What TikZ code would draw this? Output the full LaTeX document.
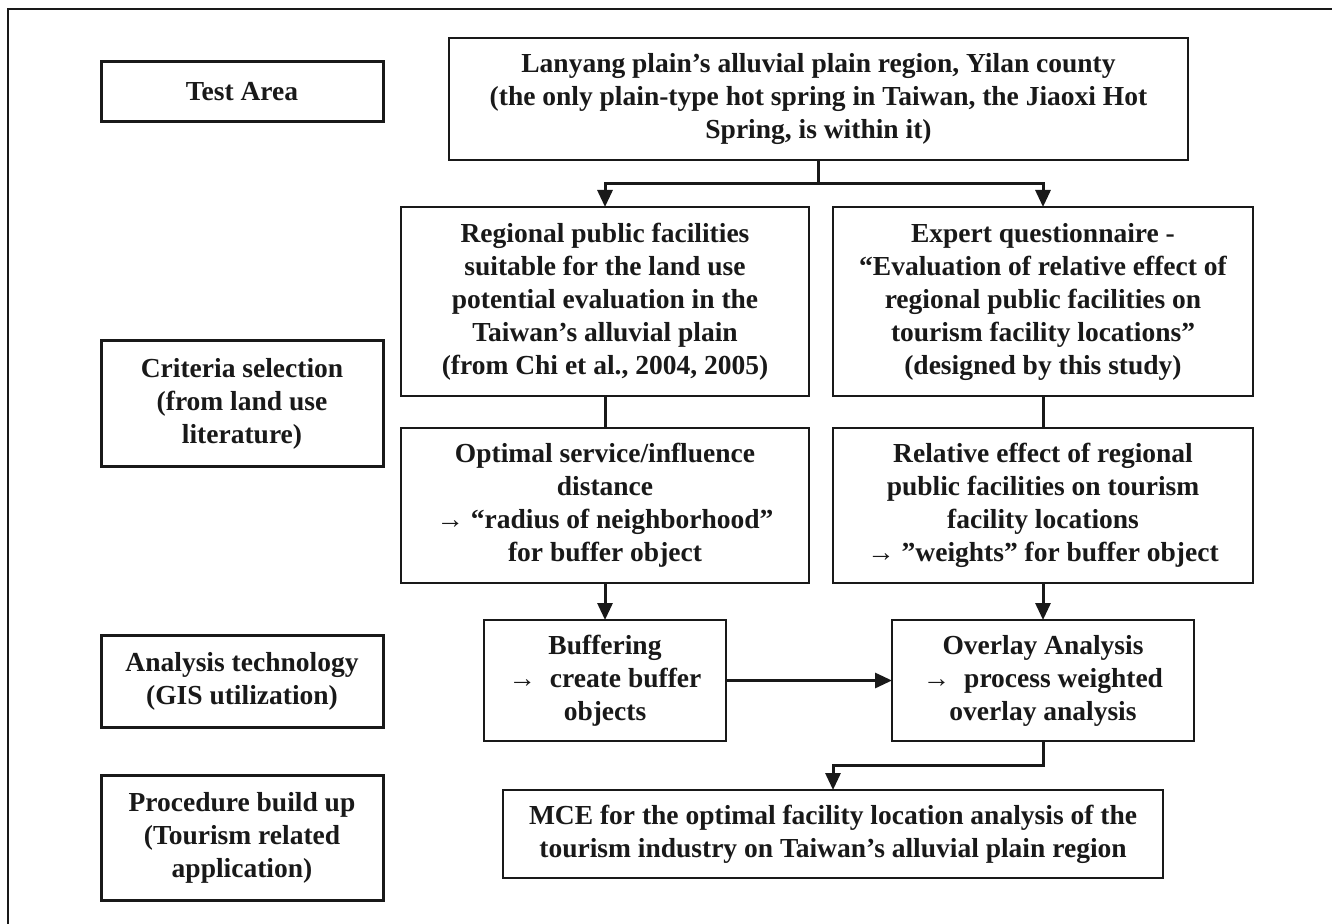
\documentclass[tikz,border=0pt]{standalone}
\usepackage{fontspec}
\setmainfont{Liberation Serif}
\usepackage{tikz}
\usetikzlibrary{arrows.meta}
\colorlet{textColor}{black!90}
\colorlet{bgColor}{white}

\begin{document}
\begin{tikzpicture}[x=0.5pt,y=-0.5pt,
  stage/.style={draw=textColor,line width=1.5pt,fill=bgColor,align=center,inner sep=0pt,outer sep=0pt,minimum width=141pt,text=textColor,font=\fontsize{13.75pt}{16.5pt}\selectfont\bfseries},
  item/.style={stage,line width=0.75pt},
  link/.style={draw=textColor,line width=1.5pt},
  arr/.style={link,-{Triangle[length=8.5pt,width=7.5pt]}}]
\useasboundingbox[fill=bgColor] (0,0) rectangle (1332,924);
\draw[textColor,line width=0.8pt] (8,930) -- (8,9) -- (1340,9);

\node[stage,minimum height=30pt] (testArea) at (242,92) {Test Area};
\node[stage,minimum height=63pt] (criteria) at (242,404) {Criteria selection\\(from land use\\literature)};
\node[stage,minimum height=46pt] (analysis) at (242,681) {Analysis technology\\(GIS utilization)};
\node[stage,minimum height=62.5pt] (procedure) at (242,837.5) {Procedure build up\\(Tourism related\\application)};

\node[item,minimum width=369.5pt,minimum height=61pt] (lanyang) at (818.5,99)
  {Lanyang plain’s alluvial plain region, Yilan county\\(the only plain-type hot spring in Taiwan, the Jiaoxi Hot\\Spring, is within it)};
\node[item,minimum width=204pt,minimum height=94.5pt] (regional) at (605,301.5)
  {Regional public facilities\\suitable for the land use\\potential evaluation in the\\Taiwan’s alluvial plain\\(from Chi et al., 2004, 2005)};
\node[item,minimum width=210pt,minimum height=94.5pt] (expert) at (1043,301.5)
  {Expert questionnaire -\\“Evaluation of relative effect of\\regional public facilities on\\tourism facility locations”\\(designed by this study)};
\node[item,minimum width=204pt,minimum height=77.5pt] (optimal) at (605,505.5)
  {Optimal service/influence\\distance\\→ “radius of neighborhood”\\for buffer object};
\node[item,minimum width=210pt,minimum height=77.5pt] (relative) at (1043,505.5)
  {Relative effect of regional\\public facilities on tourism\\facility locations\\→ ”weights” for buffer object};
\node[item,minimum width=121pt,minimum height=60.5pt] (buffering) at (605,680.5)
  {Buffering\\→ \ create buffer\\objects};
\node[item,minimum width=151pt,minimum height=60.5pt] (overlay) at (1043,680.5)
  {Overlay Analysis\\→ \ process weighted\\overlay analysis};
\node[item,minimum width=330pt,minimum height=44pt] (mce) at (833,834)
  {MCE for the optimal facility location analysis of the\\tourism industry on Taiwan’s alluvial plain region};

\coordinate (split) at (818.5,184);
\coordinate (join) at (1043,765);
\draw[link] (lanyang.south) -- (split);
\draw[arr] (split) -| (regional.north);
\draw[arr] (split) -| (expert.north);
\draw[link] (regional) -- (optimal);
\draw[link] (expert) -- (relative);
\draw[arr] (optimal) -- (buffering);
\draw[arr] (relative) -- (overlay);
\draw[arr] (buffering) -- (overlay);
\draw[arr] (overlay.south) -- (join) -| (mce.north);
\end{tikzpicture}
\end{document}
